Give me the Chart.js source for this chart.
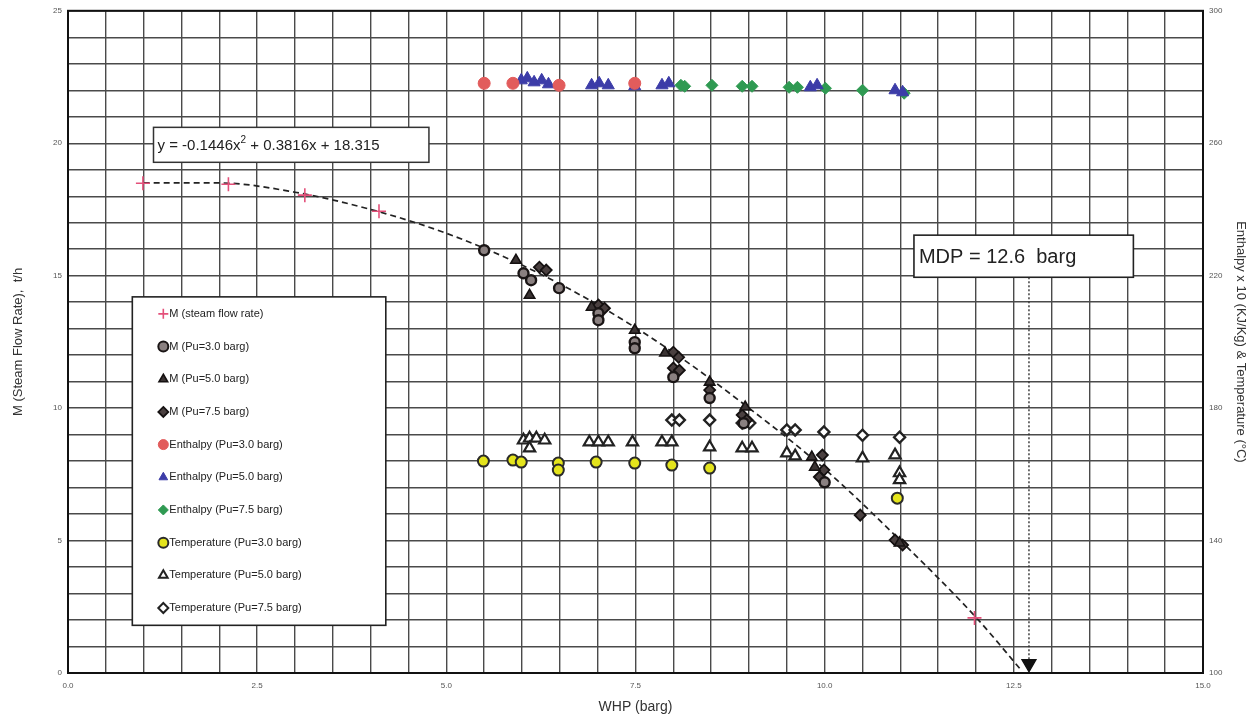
<!DOCTYPE html>
<html>
<head>
<meta charset="utf-8">
<script src="https://cdn.jsdelivr.net/npm/chart.js@4.4.1/dist/chart.umd.min.js"></script>
<style>
  html, body { margin: 0; padding: 0; background: #fff; }
  #wrap { width: 1257px; height: 724px; position: relative; }
</style>
</head>
<body>
<div id="wrap"><canvas id="c" width="1257" height="724"></canvas></div>
<script>
// ---------- DATA ----------
const xTickLabels = ['0.0', '2.5', '5.0', '7.5', '10.0', '12.5', '15.0'];
const yLeftTickLabels = ['0', '5', '10', '15', '20', '25'];
const yRightTickLabels = ['100', '140', '180', '220', '260', '300'];

// M (steam flow rate) - red crosses
const mFlowX = [0.99, 2.12, 3.13, 4.11, 11.98];
const mFlowY = [18.49, 18.45, 18.04, 17.43, 2.08];

// Fitted curve
const fitX = [1.0, 2.0, 3.0, 4.0, 5.0, 6.0, 7.0, 8.0, 9.0, 10.0, 11.0, 12.0, 12.6];
const fitY = [18.5, 18.5, 18.15, 17.5, 16.6, 15.4, 13.9, 12.1, 10.0, 7.7, 5.0, 2.1, 0.1];

// M (Pu=3.0 barg)
const m30X = [5.50, 6.02, 6.12, 6.49, 7.01, 7.01, 7.49, 7.49, 8.00, 8.48, 8.93, 10.00];
const m30Y = [15.96, 15.09, 14.83, 14.53, 13.58, 13.32, 12.49, 12.26, 11.17, 10.38, 9.43, 7.20];
// M (Pu=5.0 barg)
const m50X = [5.92, 6.10, 6.92, 7.49, 7.89, 8.48, 8.95, 9.83, 9.87, 10.99];
const m50Y = [15.58, 14.26, 13.81, 12.94, 12.08, 10.98, 10.04, 8.15, 7.77, 4.91];
// M (Pu=7.5 barg)
const m75X = [6.23, 6.32, 7.01, 7.09, 8.00, 8.07, 8.00, 8.08, 8.48, 8.91, 8.97, 9.97, 9.99, 9.93, 10.47, 10.93, 11.03];
const m75Y = [15.32, 15.21, 13.89, 13.77, 12.11, 11.92, 11.51, 11.43, 10.68, 9.74, 9.55, 8.23, 7.66, 7.40, 5.96, 5.02, 4.83];

// Enthalpy x 10 (right axis)
const h30X = [5.50, 5.88, 6.49, 7.49];
const h30Y = [278.1, 278.1, 277.5, 278.1];
const h50X = [5.99, 6.07, 6.16, 6.26, 6.35, 6.92, 7.02, 7.14, 7.49, 7.85, 7.94, 9.81, 9.90, 10.93, 11.03];
const h50Y = [279.0, 279.6, 278.4, 279.0, 277.8, 277.5, 278.1, 277.5, 277.2, 277.5, 278.1, 276.9, 277.5, 276.0, 275.4];
const h75X = [8.10, 8.15, 8.51, 8.91, 9.04, 9.53, 9.64, 10.01, 10.50, 11.05];
const h75Y = [277.5, 277.2, 277.5, 277.2, 277.2, 276.9, 276.9, 276.6, 276.0, 275.1];

// Temperature (right axis)
const t30X = [5.49, 5.88, 5.99, 6.48, 6.48, 6.98, 7.49, 7.98, 8.48, 10.96];
const t30Y = [164.0, 164.3, 163.7, 163.4, 161.3, 163.7, 163.4, 162.8, 161.9, 152.8];
const t50X = [6.02, 6.10, 6.19, 6.30, 6.10, 6.89, 7.01, 7.14, 7.46, 7.85, 7.98, 8.48, 8.91, 9.04, 9.50, 9.61, 10.50, 10.93, 10.99, 10.99];
const t50Y = [170.3, 170.9, 170.9, 170.3, 167.9, 169.7, 169.7, 169.7, 169.7, 169.7, 169.7, 168.2, 167.9, 167.9, 166.4, 165.5, 164.9, 165.8, 160.4, 158.3];
const t75X = [7.98, 8.08, 8.48, 8.91, 9.01, 9.50, 9.61, 9.99, 10.50, 10.99];
const t75Y = [176.4, 176.4, 176.4, 175.5, 175.5, 173.4, 173.4, 172.8, 171.8, 171.2];

// MDP annotation
const mdpX = 12.7;
const mdpLineTop = 14.94;
const mdpLineBottom = 0.35;
const mdpLabel = 'MDP = 12.6  barg';
const fitLabelA = 'y = -0.1446x';
const fitLabelB = ' + 0.3816x + 18.315';

const legendLabels = [
  'M (steam flow rate)', 'M (Pu=3.0 barg)', 'M (Pu=5.0 barg)', 'M (Pu=7.5 barg)',
  'Enthalpy (Pu=3.0 barg)', 'Enthalpy (Pu=5.0 barg)', 'Enthalpy (Pu=7.5 barg)',
  'Temperature (Pu=3.0 barg)', 'Temperature (Pu=5.0 barg)', 'Temperature (Pu=7.5 barg)'
];

// ---------- BUILD ----------
const pts = (xs, ys) => xs.map((x, i) => ({ x: x, y: ys[i] }));
const FONT = '"Liberation Sans", Arial, sans-serif';

function ds(label, xs, ys, axis, style, r, bg, bc, bw) {
  return {
    label: label, data: pts(xs, ys), yAxisID: axis,
    pointStyle: style, pointRadius: r, pointHoverRadius: r,
    backgroundColor: bg, borderColor: bc, borderWidth: bw,
    pointBackgroundColor: bg, pointBorderColor: bc, pointBorderWidth: bw,
    showLine: false
  };
}

const datasets = [
  ds(legendLabels[0], mFlowX, mFlowY, 'y', 'cross', 7, '#e4507a', '#e4507a', 1.6),
  ds(legendLabels[1], m30X, m30Y, 'y', 'circle', 5, '#8a8080', '#1a1515', 2.4),
  ds(legendLabels[2], m50X, m50Y, 'y', 'triangle', 6, '#3a3333', '#151111', 1.6),
  ds(legendLabels[3], m75X, m75Y, 'y', 'rectRot', 5.5, '#4a4040', '#151111', 1.8),
  ds(legendLabels[4], h30X, h30Y, 'y2', 'circle', 6, '#e25c5c', '#e25c5c', 1),
  ds(legendLabels[5], h50X, h50Y, 'y2', 'triangle', 7, '#3c3ca8', '#3c3ca8', 1),
  ds(legendLabels[6], h75X, h75Y, 'y2', 'rectRot', 6, '#2f9a52', '#2f9a52', 1),
  ds(legendLabels[7], t30X, t30Y, 'y2', 'circle', 5.5, '#e4e41c', '#2a2a2a', 2),
  ds(legendLabels[8], t50X, t50Y, 'y2', 'triangle', 6.5, '#ffffff', '#222222', 2.2),
  ds(legendLabels[9], t75X, t75Y, 'y2', 'rectRot', 5.5, '#ffffff', '#222222', 2.4),
  {
    label: 'fit', data: pts(fitX, fitY), yAxisID: 'y', showLine: true,
    borderColor: '#222', borderWidth: 1.7, borderDash: [6, 4], pointRadius: 0,
    cubicInterpolationMode: 'monotone', fill: false
  },
  {
    label: 'mdp', data: [{ x: mdpX, y: mdpLineTop }, { x: mdpX, y: mdpLineBottom }], yAxisID: 'y',
    showLine: true, borderColor: '#333', borderWidth: 1.4, borderDash: [2, 2],
    pointRadius: [0, 8], pointStyle: 'triangle', rotation: 180,
    pointBackgroundColor: '#111', pointBorderColor: '#111', fill: false
  }
];

function drawMarker(ctx, style, x, y, r, fill, stroke, lw) {
  ctx.save();
  ctx.fillStyle = fill; ctx.strokeStyle = stroke; ctx.lineWidth = lw;
  ctx.beginPath();
  if (style === 'cross') {
    ctx.moveTo(x - r, y); ctx.lineTo(x + r, y);
    ctx.moveTo(x, y - r); ctx.lineTo(x, y + r);
    ctx.stroke(); ctx.restore(); return;
  } else if (style === 'circle') {
    ctx.arc(x, y, r, 0, Math.PI * 2);
  } else if (style === 'triangle') {
    let a = 0;
    ctx.moveTo(x + Math.sin(a) * r, y - Math.cos(a) * r);
    a += 2 * Math.PI / 3; ctx.lineTo(x + Math.sin(a) * r, y - Math.cos(a) * r);
    a += 2 * Math.PI / 3; ctx.lineTo(x + Math.sin(a) * r, y - Math.cos(a) * r);
  } else if (style === 'rectRot') {
    ctx.moveTo(x, y - r); ctx.lineTo(x + r, y); ctx.lineTo(x, y + r); ctx.lineTo(x - r, y);
  }
  ctx.closePath(); ctx.fill(); ctx.stroke();
  ctx.restore();
}

const overlay = {
  id: 'overlay',
  afterDatasetsDraw(chart) {
    const ctx = chart.ctx;
    const xs = chart.scales.x, ys = chart.scales.y;
    const ca = chart.chartArea;
    // frame
    ctx.save();
    ctx.strokeStyle = '#111'; ctx.lineWidth = 2;
    ctx.strokeRect(ca.left, ca.top, ca.right - ca.left, ca.bottom - ca.top);
    ctx.restore();

    // Equation box
    ctx.save();
    const ex0 = xs.getPixelForValue(1.13), ey0 = ys.getPixelForValue(20.6);
    const ex1 = xs.getPixelForValue(4.77), ey1 = ys.getPixelForValue(19.28);
    ctx.fillStyle = '#fff';
    ctx.fillRect(ex0, ey0, ex1 - ex0, ey1 - ey0);
    ctx.strokeStyle = '#333'; ctx.lineWidth = 1.5;
    ctx.strokeRect(ex0, ey0, ex1 - ex0, ey1 - ey0);
    ctx.fillStyle = '#222';
    ctx.font = '15px ' + FONT;
    ctx.textBaseline = 'middle';
    const ty = (ey0 + ey1) / 2 + 1;
    let tx = ex0 + 4;
    ctx.fillText(fitLabelA, tx, ty);
    tx += ctx.measureText(fitLabelA).width;
    ctx.font = '10px ' + FONT;
    ctx.fillText('2', tx, ty - 6);
    tx += ctx.measureText('2').width;
    ctx.font = '15px ' + FONT;
    ctx.fillText(fitLabelB, tx, ty);
    ctx.restore();

    // MDP box
    ctx.save();
    const mx0 = xs.getPixelForValue(11.18), my0 = ys.getPixelForValue(16.53);
    const mx1 = xs.getPixelForValue(14.08), my1 = ys.getPixelForValue(14.94);
    ctx.fillStyle = '#fff';
    ctx.fillRect(mx0, my0, mx1 - mx0, my1 - my0);
    ctx.strokeStyle = '#222'; ctx.lineWidth = 1.6;
    ctx.strokeRect(mx0, my0, mx1 - mx0, my1 - my0);
    ctx.fillStyle = '#222';
    ctx.font = '20px ' + FONT;
    ctx.textBaseline = 'middle';
    ctx.fillText(mdpLabel, mx0 + 5, (my0 + my1) / 2 + 1);
    ctx.restore();

    // Legend box
    ctx.save();
    const lx0 = xs.getPixelForValue(0.85), ly0 = ys.getPixelForValue(14.2);
    const lx1 = xs.getPixelForValue(4.2), ly1 = ys.getPixelForValue(1.8);
    ctx.fillStyle = '#fff';
    ctx.fillRect(lx0, ly0, lx1 - lx0, ly1 - ly0);
    ctx.strokeStyle = '#222'; ctx.lineWidth = 1.6;
    ctx.strokeRect(lx0, ly0, lx1 - lx0, ly1 - ly0);
    const rowH = (ly1 - ly0) / 10.05;
    ctx.font = '11px ' + FONT;
    ctx.textBaseline = 'middle';
    for (let i = 0; i < 10; i++) {
      const d = chart.data.datasets[i];
      const yy = ly0 + rowH * (i + 0.52);
      const mxp = lx0 + 31;
      const r = Math.min(d.pointRadius, 5);
      drawMarker(ctx, d.pointStyle, mxp, yy, d.pointStyle === 'cross' ? 5 : r, d.pointBackgroundColor, d.pointBorderColor, Math.min(d.pointBorderWidth, 2));
      ctx.fillStyle = '#222';
      ctx.fillText(d.label, mxp + 6, yy);
    }
    ctx.restore();
  }
};

function labelAt(list, start, step) {
  return function (v) {
    const k = (v - start) / step;
    if (Math.abs(k - Math.round(k)) < 1e-6) {
      const idx = Math.round(k);
      return list[idx] !== undefined ? list[idx] : '';
    }
    return '';
  };
}

new Chart(document.getElementById('c'), {
  type: 'scatter',
  data: { datasets: datasets },
  options: {
    responsive: false,
    animation: false,
    layout: { padding: { top: 10, right: 0, left: 0, bottom: 0 } },
    plugins: { legend: { display: false }, tooltip: { enabled: false } },
    scales: {
      x: {
        type: 'linear', min: 0, max: 15,
        afterFit: s => { s.height = 51; },
        grid: { color: '#4a4a4a', lineWidth: 1.4, drawTicks: false },
        border: { display: true, color: '#111', width: 2 },
        ticks: { stepSize: 0.5, autoSkip: false, maxRotation: 0, padding: 8,
                 font: { size: 8, family: FONT }, color: '#555',
                 callback: labelAt(xTickLabels, 0, 2.5) },
        title: { display: true, text: 'WHP (barg)', font: { size: 14, family: FONT }, color: '#333', padding: { top: 2, bottom: 8 } }
      },
      y: {
        type: 'linear', position: 'left', min: 0, max: 25,
        afterFit: s => { s.width = 68; },
        grid: { color: '#4a4a4a', lineWidth: 1.4, drawTicks: false },
        border: { display: true, color: '#111', width: 2 },
        ticks: { stepSize: 1, autoSkip: false, padding: 6,
                 font: { size: 8, family: FONT }, color: '#555',
                 callback: labelAt(yLeftTickLabels, 0, 5) },
        title: { display: true, text: 'M (Steam Flow Rate),  t/h', font: { size: 13, family: FONT }, color: '#333', padding: { top: 11, bottom: 0 } }
      },
      y2: {
        type: 'linear', position: 'right', min: 100, max: 300,
        afterFit: s => { s.width = 54; },
        grid: { display: false, drawTicks: false },
        border: { display: true, color: '#111', width: 2 },
        ticks: { stepSize: 40, autoSkip: false, padding: 6,
                 font: { size: 8, family: FONT }, color: '#555',
                 callback: labelAt(yRightTickLabels, 100, 40) },
        title: { display: true, text: 'Enthalpy x 10 (KJ/Kg) & Temperature (\u00B0C)', font: { size: 13, family: FONT }, color: '#333', padding: { top: 9, bottom: 0 } }
      }
    }
  },
  plugins: [overlay]
});
</script>
</body>
</html>
